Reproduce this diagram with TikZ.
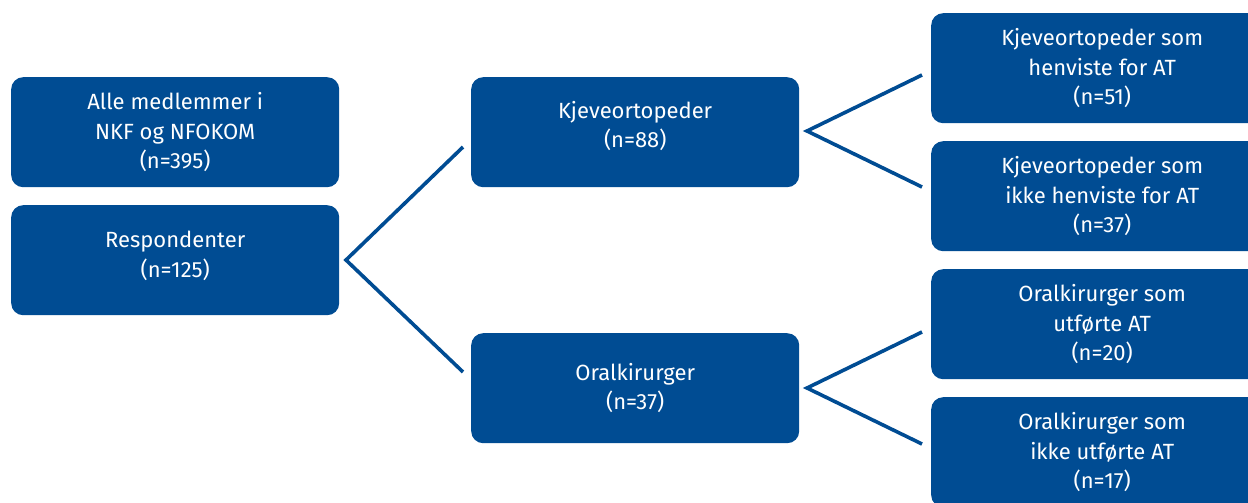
\documentclass[tikz,border=0pt]{standalone}
\usepackage{fontspec}
\setmainfont{Fira Sans}
\definecolor{boxblue}{HTML}{004C93}
\begin{document}
\begin{tikzpicture}[x=1pt,y=-1pt,
  box/.style={fill=boxblue, rounded corners=12pt, text=white, align=center,
    anchor=north west, inner sep=0pt, font=\fontsize{22}{29.5}\selectfont},
  midbox/.style={box, minimum width=328pt, minimum height=110pt},
  rbox/.style={box, minimum width=342pt, minimum height=110pt},
  conn/.style={draw=boxblue, line width=3.6pt}]
\useasboundingbox (0,0) rectangle (1248,503);
\clip (0,0) rectangle (1248,503);
\fill[white] (0,0) rectangle (1248,503);
\node[midbox] (alle) at (11,77) {Alle medlemmer i\\NKF og NFOKOM\\(n=395)};
\node[midbox, text depth=12pt] (resp) at (11,205) {Respondenter\\(n=125)};
\node[midbox, text depth=16pt] (kjeve) at (471,77) {Kjeveortopeder\\(n=88)};
\node[midbox] (oral) at (471,333) {Oralkirurger\\(n=37)};
\node[rbox] (k1) at (931,13) {Kjeveortopeder som\\henviste for AT\\(n=51)};
\node[rbox] (k2) at (931,141) {Kjeveortopeder som\\ikke henviste for AT\\(n=37)};
\node[rbox] (o1) at (931,269) {Oralkirurger som\\utførte AT\\(n=20)};
\node[rbox] (o2) at (931,397) {Oralkirurger som\\ikke utførte AT\\(n=17)};
\coordinate (v1) at (346,260);
\coordinate (v1a) at (463,147);
\coordinate (v1b) at (463,372);
\coordinate (v2) at (807,131);
\coordinate (v2a) at (922,75);
\coordinate (v2b) at (922,187);
\coordinate (v3) at (807,388);
\coordinate (v3a) at (922,332);
\coordinate (v3b) at (922,444);
\draw[conn] (v1a) -- (v1) -- (v1b);
\draw[conn] (v2a) -- (v2) -- (v2b);
\draw[conn] (v3a) -- (v3) -- (v3b);
\end{tikzpicture}
\end{document}
